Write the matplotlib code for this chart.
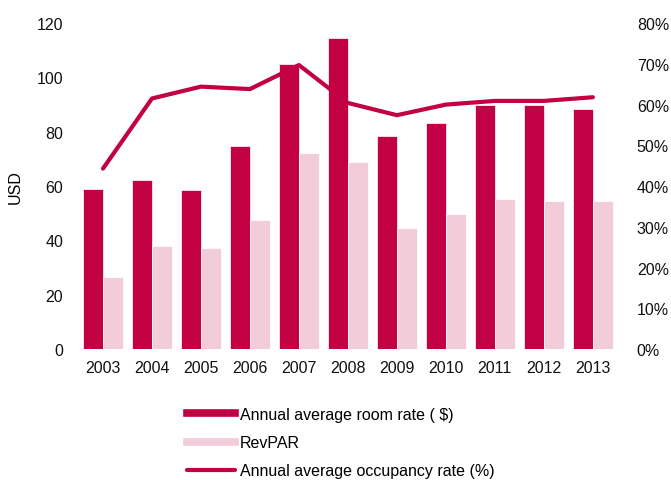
import numpy as np
import matplotlib
matplotlib.use("Agg")
import matplotlib.pyplot as plt
from matplotlib.lines import Line2D

plt.rcParams['font.family'] = ['Liberation Sans', 'DejaVu Sans']

# data
years = ['2003', '2004', '2005', '2006', '2007', '2008', '2009', '2010', '2011', '2012', '2013']
room_rate = [59.1, 62.3, 58.6, 74.8, 105.1, 114.6, 78.3, 83.4, 89.8, 89.8, 88.2]
revpar = [26.4, 38.0, 37.4, 47.7, 72.3, 68.7, 44.7, 49.9, 55.1, 54.5, 54.4]
occupancy = [44.3, 61.5, 64.4, 63.8, 69.7, 60.4, 57.4, 60.0, 60.9, 60.9, 61.8]

DARK = '#C20044'
LIGHT = '#F2CCD8'
FS = 11.5

fig = plt.figure(figsize=(6.71, 4.81), dpi=100)
ax = fig.add_axes([0.117, 0.272, 0.803, 0.678])

x = np.arange(len(years))
w = 0.41
ax.bar(x - w / 2, room_rate, width=w, color=DARK, edgecolor='white', linewidth=0.5)
ax.bar(x + w / 2, revpar, width=w, color=LIGHT, edgecolor='white', linewidth=0.5)

ax.set_xlim(-0.5, len(years) - 0.5)
ax.set_ylim(0, 120)
ax.set_yticks(range(0, 121, 20))
ax.set_xticks(x)
ax.set_xticklabels(years)
ax.set_ylabel('USD', fontsize=FS, labelpad=10)

ax2 = ax.twinx()
ax2.plot(x, occupancy, color=DARK, linewidth=3, solid_capstyle='round')
ax2.set_ylim(0, 80)
ax2.set_yticks(range(0, 81, 10))
ax2.set_yticklabels([f'{v}%' for v in range(0, 81, 10)])

for a in (ax, ax2):
    for s in a.spines.values():
        s.set_visible(False)
    a.tick_params(length=0, labelsize=FS, colors='#111111')
ax.tick_params(axis='y', pad=11)
ax.tick_params(axis='x', pad=8)
ax2.tick_params(axis='y', pad=14)

handles = [
    Line2D([], [], color=DARK, linewidth=5.5),
    Line2D([], [], color=LIGHT, linewidth=5.5),
    Line2D([], [], color=DARK, linewidth=3, solid_capstyle='round'),
]
labels = ['Annual average room rate ( $)', 'RevPAR', 'Annual average occupancy rate (%)']
fig.legend(handles, labels, loc='upper left', bbox_to_anchor=(187 / 671, 1 - 408 / 481),
           frameon=False, fontsize=FS, handlelength=3.0, handletextpad=0.3,
           labelspacing=0.82, borderpad=0, borderaxespad=0)

fig.savefig('out.png', dpi=100)
